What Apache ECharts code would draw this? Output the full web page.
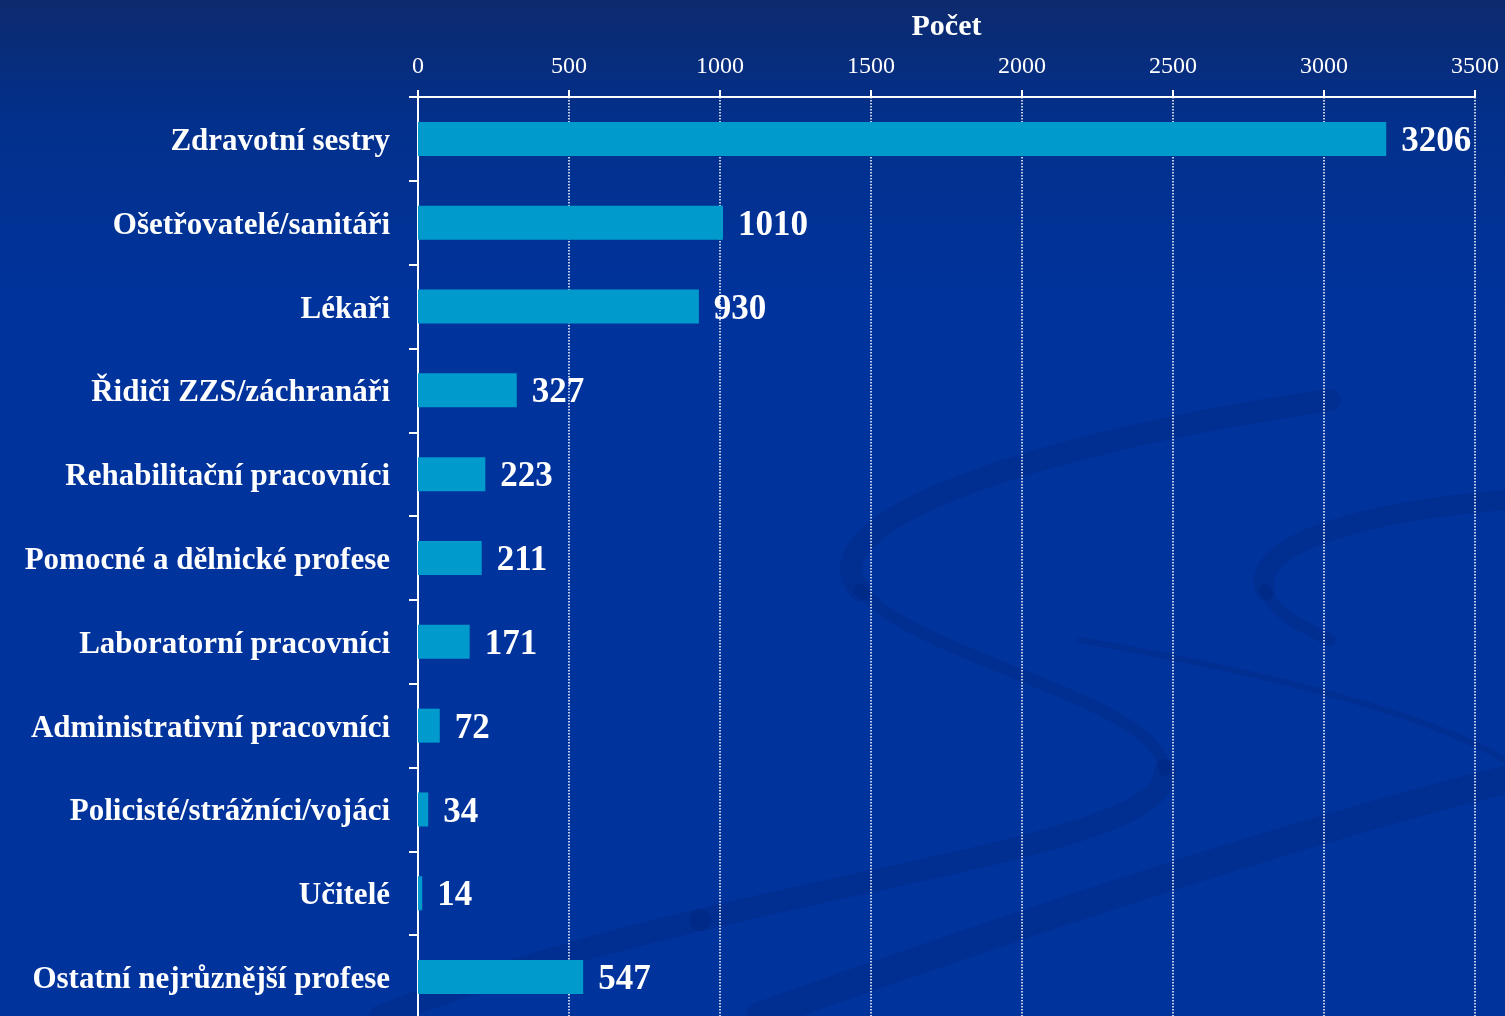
<!DOCTYPE html>
<html>
<head>
<meta charset="utf-8">
<script src="https://cdn.jsdelivr.net/npm/echarts@6/dist/echarts.min.js"></script>
<style>
html,body{margin:0;padding:0;background:#00339c;}
#chart{width:1505px;height:1016px;}
</style>
</head>
<body>
<div id="chart"></div>
<script>
const categories = [
  'Zdravotní sestry',
  'Ošetřovatelé/sanitáři',
  'Lékaři',
  'Řidiči ZZS/záchranáři',
  'Rehabilitační pracovníci',
  'Pomocné a dělnické profese',
  'Laboratorní pracovníci',
  'Administrativní pracovníci',
  'Policisté/strážníci/vojáci',
  'Učitelé',
  'Ostatní nejrůznější profese'
];
const counts = [3206, 1010, 930, 327, 223, 211, 171, 72, 34, 14, 547];
const axisName = 'Počet';

const font = '"Liberation Serif", "DejaVu Serif", serif';
const swoosh = 'rgba(0,25,95,0.17)';

function curve(p, w) {
  return {
    type: 'bezierCurve', z: -10, silent: true,
    shape: {x1: p[0], y1: p[1], cpx1: p[2], cpy1: p[3], cpx2: p[4], cpy2: p[5], x2: p[6], y2: p[7]},
    style: {fill: null, stroke: swoosh, lineWidth: w, lineCap: 'round'}
  };
}

const chart = echarts.init(document.getElementById('chart'));
chart.setOption({
  backgroundColor: new echarts.graphic.LinearGradient(0, 0, 0, 1, [
    {offset: 0, color: '#0d2a6e'},
    {offset: 0.12, color: '#02308c'},
    {offset: 0.3, color: '#00339c'},
    {offset: 1, color: '#00339c'}
  ]),
  animation: false,
  graphic: [
    curve([1330,400, 1050,440, 800,520, 860,590], 22),
    curve([860,590, 920,660, 1160,700, 1165,770], 12),
    curve([1165,770, 1170,830, 950,860, 700,920], 22),
    curve([700,920, 550,955, 450,990, 380,1016], 22),
    curve([1505,500, 1380,510, 1250,540, 1265,590], 20),
    curve([1265,590, 1275,615, 1300,625, 1330,640], 12),
    curve([1080,640, 1250,670, 1420,710, 1505,760], 6),
    curve([760,1016, 1000,930, 1300,830, 1505,780], 28)
  ],
  grid: {left: 418, right: 30, top: 97, height: 922, outerBoundsMode: 'none', containLabel: false},
  xAxis: {
    type: 'value',
    position: 'top',
    min: 0, max: 3500, interval: 500,
    name: axisName,
    nameLocation: 'middle',
    nameGap: 55,
    nameTextStyle: {color: '#ffffff', fontFamily: font, fontSize: 30, fontWeight: 'bold'},
    axisLine: {show: true, lineStyle: {color: '#ffffff', width: 2}},
    axisTick: {show: true, length: 7, lineStyle: {color: '#ffffff', width: 2}},
    axisLabel: {color: '#ffffff', fontFamily: font, fontSize: 24, margin: 18, formatter: v => String(v)},
    splitLine: {show: true, lineStyle: {color: '#ffffff', width: 1.5, type: 'dotted'}}
  },
  yAxis: {
    type: 'category',
    data: categories,
    inverse: true,
    axisLine: {show: true, lineStyle: {color: '#ffffff', width: 2}},
    axisTick: {show: true, length: 9, lineStyle: {color: '#ffffff', width: 2}},
    axisLabel: {
      color: '#ffffff', fontFamily: font, fontSize: 31, fontWeight: 'bold', margin: 28,
      formatter: v => '{c|' + v + '}',
      rich: {c: {color: '#ffffff', fontFamily: font, fontSize: 31, fontWeight: 'bold', padding: [6, 0, 0, 0]}}
    },
    splitLine: {show: false}
  },
  series: [{
    type: 'bar',
    data: counts,
    barWidth: 34,
    itemStyle: {color: '#009bcc'},
    label: {
      show: true, position: 'right', distance: 15, offset: [0, 3],
      color: '#ffffff', fontFamily: font, fontSize: 35, fontWeight: 'bold'
    }
  }]
});
</script>
</body>
</html>
